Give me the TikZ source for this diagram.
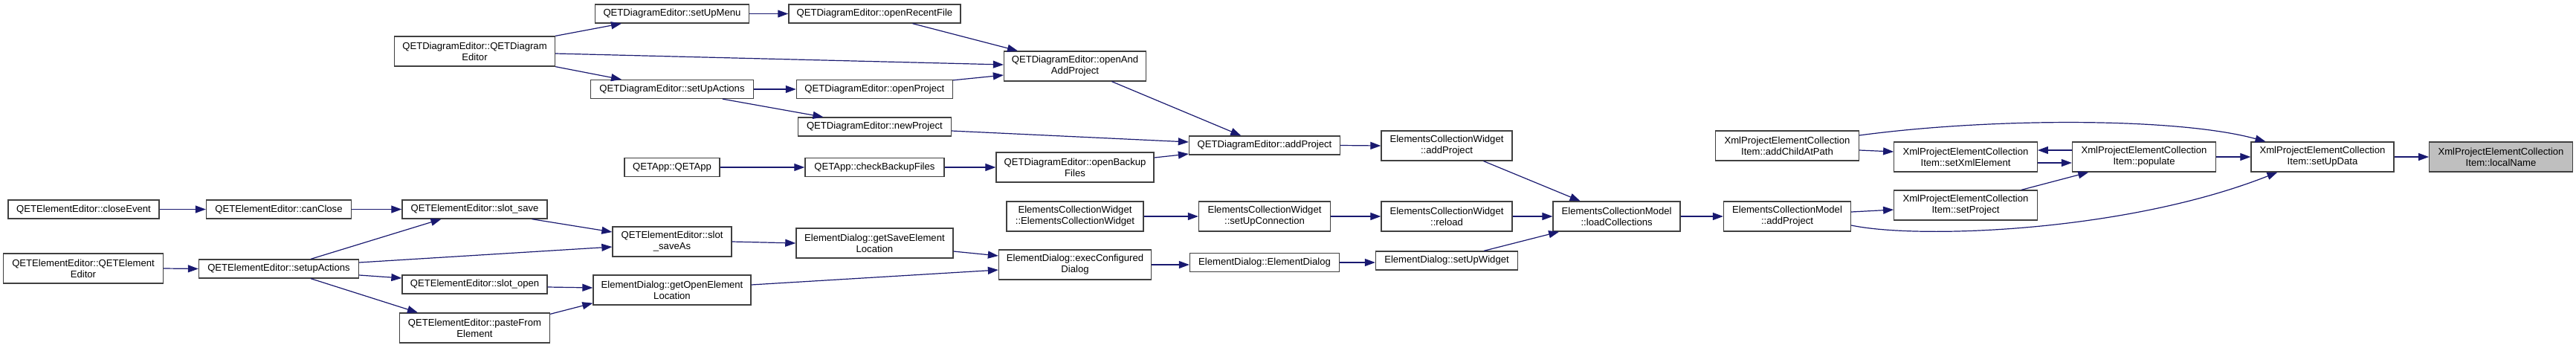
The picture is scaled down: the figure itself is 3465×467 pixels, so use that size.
\documentclass[tikz,border=0pt]{standalone}
\usepackage{fontspec}
\setmainfont{Liberation Sans}
\usepackage{tikz}
\usepackage{xcolor}
\usetikzlibrary{arrows.meta}

\definecolor{edgeblue}{HTML}{191970}
\definecolor{boxline}{HTML}{404040}
\definecolor{boxgrey}{HTML}{BFBFBF}

\begin{document}
\begin{tikzpicture}[x=1pt, y=-1pt,
    func/.style={draw=boxline, fill=white, line width=1.3pt, align=center,
      inner xsep=3pt, inner ysep=1pt, minimum height=25pt,
      font=\fontsize{13.1}{15}\selectfont},
    func2/.style={func, minimum height=40pt},
    target/.style={func2, fill=boxgrey},
    call/.style={draw=edgeblue, line width=1.2pt,
      -{Triangle[length=14pt, width=10pt]}}]
    \useasboundingbox (0,0) rectangle (3465,467);
    % Element editor callers
    \node[func, minimum width=203pt] (closeEv) at (112.5,281.5) {QETElementEditor::closeEvent};
    \node[func2, minimum width=215pt] (eeCtor) at (112,361) {QETElementEditor::QETElement\\Editor};
    \node[func, minimum width=195pt] (canClose) at (375,281.5) {QETElementEditor::canClose};
    \node[func, minimum width=215pt] (setupAct) at (375,361.5) {QETElementEditor::setupActions};
    \node[func, minimum width=195pt] (slotSave) at (638.5,281.5) {QETElementEditor::slot\_save};
    \node[func, minimum width=195pt] (slotOpen) at (638.5,382.5) {QETElementEditor::slot\_open};
    \node[func2, minimum width=202pt] (paste) at (638.5,441) {QETElementEditor::pasteFrom\\Element};
    \node[func2, minimum width=160pt] (saveAs) at (904,325) {QETElementEditor::slot\\\_saveAs};
    \node[func2, minimum width=212pt] (getOpen) at (904,390) {ElementDialog::getOpenElement\\Location};
    \node[func2, minimum width=211pt] (getSave) at (1176.4,327) {ElementDialog::getSaveElement\\Location};
    \node[func2, minimum width=205pt] (execDlg) at (1446,356) {ElementDialog::execConfigured\\Dialog};
    \node[func, minimum width=201pt] (edCtor) at (1701,353) {ElementDialog::ElementDialog};
    \node[func, minimum width=191pt] (setUpWidget) at (1946,350.5) {ElementDialog::setUpWidget};
    % Diagram editor callers
    \node[func2, minimum width=216pt] (deCtor) at (638.5,69) {QETDiagramEditor::QETDiagram\\Editor};
    \node[func, minimum width=207pt] (setUpMenu) at (904,18.5) {QETDiagramEditor::setUpMenu};
    \node[func, minimum width=219pt] (setUpActions) at (904,120) {QETDiagramEditor::setUpActions};
    \node[func, minimum width=128pt] (qetApp) at (904,225) {QETApp::QETApp};
    \node[func, minimum width=231pt] (openRecent) at (1176.4,18.5) {QETDiagramEditor::openRecentFile};
    \node[func, minimum width=210pt] (openProj) at (1176.4,120) {QETDiagramEditor::openProject};
    \node[func, minimum width=206pt] (newProj) at (1176.4,170.5) {QETDiagramEditor::newProject};
    \node[func, minimum width=187pt] (checkBackup) at (1176.4,225) {QETApp::checkBackupFiles};
    \node[func2, minimum width=191pt] (openAndAdd) at (1446,89) {QETDiagramEditor::openAnd\\AddProject};
    \node[func2, minimum width=212pt] (openBackup) at (1446,225) {QETDiagramEditor::openBackup\\Files};
    \node[func, minimum width=203pt] (deAddProj) at (1701,195.5) {QETDiagramEditor::addProject};
    % Collection widget and model
    \node[func2, minimum width=184pt] (ecwCtor) at (1446,291) {ElementsCollectionWidget\\::ElementsCollectionWidget};
    \node[func2, minimum width=177pt] (setUpConn) at (1701,291) {ElementsCollectionWidget\\::setUpConnection};
    \node[func2, minimum width=176pt] (ecwAddProj) at (1946,196) {ElementsCollectionWidget\\::addProject};
    \node[func2, minimum width=176pt] (reload) at (1946,291) {ElementsCollectionWidget\\::reload};
    \node[func2, minimum width=171pt] (loadColl) at (2174.6,291) {ElementsCollectionModel\\::loadCollections};
    \node[func2, minimum width=171pt] (ecmAddProj) at (2404,291) {ElementsCollectionModel\\::addProject};
    % Xml project items
    \node[func2, minimum width=193pt] (addChild) at (2404,196) {XmlProjectElementCollection\\Item::addChildAtPath};
    \node[func2, minimum width=192.5pt] (setXml) at (2644,211) {XmlProjectElementCollection\\Item::setXmlElement};
    \node[func2, minimum width=192.5pt] (setProj) at (2644,276) {XmlProjectElementCollection\\Item::setProject};
    \node[func2, minimum width=193pt] (populate) at (2884,211) {XmlProjectElementCollection\\Item::populate};
    \node[func2, minimum width=192pt] (setUpData) at (3124,211) {XmlProjectElementCollection\\Item::setUpData};
    \node[target, minimum width=192.5pt] (localName) at (3364,211) {XmlProjectElementCollection\\Item::localName};

    % Calls, element editor side
    \draw[call] (closeEv.east) -- (canClose.west);
    \draw[call] (canClose.east) -- (slotSave.west);
    \draw[call] (eeCtor.east) -- (setupAct.west);
    \draw[call] ([xshift=43pt]setupAct.north) -- ([xshift=-45pt]slotSave.south);
    \draw[call] ([yshift=8.5pt]setupAct.east) -- ([yshift=-7pt]saveAs.west);
    \draw[call] ([yshift=-8.5pt]setupAct.east) -- ([yshift=8.5pt]slotOpen.west);
    \draw[call] ([xshift=43pt]setupAct.south) -- ([xshift=-76.5pt]paste.north);
    \draw[call] ([xshift=77pt]slotSave.south) -- ([yshift=13pt]saveAs.west);
    \draw[call] (saveAs.east) -- (getSave.west);
    \draw[call] ([yshift=-3.5pt]slotOpen.east) -- ([yshift=3pt]getOpen.west);
    \draw[call] ([yshift=-2pt]paste.north east) -- ([yshift=3pt]getOpen.south west);
    \draw[call] ([yshift=-11pt]getSave.east) -- ([yshift=12pt]execDlg.west);
    \draw[call] ([yshift=7pt]getOpen.east) -- ([yshift=-7pt]execDlg.west);
    \draw[call] (execDlg.east) -- (edCtor.west |- execDlg.east);
    \draw[call] (edCtor.east) -- (setUpWidget.west |- edCtor.east);
    \draw[call] ([xshift=50pt]setUpWidget.north) -- ([xshift=-77.5pt]loadColl.south);
    % Calls, diagram editor side
    \draw[call] (deCtor.north east) -- ([xshift=-68pt]setUpMenu.south);
    \draw[call] (deCtor.south east) -- ([xshift=-68pt]setUpActions.north);
    \draw[call] ([yshift=-3pt]deCtor.east) -- ([yshift=2pt]openAndAdd.west);
    \draw[call] (setUpMenu.east) -- (openRecent.west);
    \draw[call] ([xshift=51pt]openRecent.south) -- ([xshift=-77pt]openAndAdd.north);
    \draw[call] (setUpActions.east) -- (openProj.west);
    \draw[call] ([xshift=68pt]setUpActions.south) -- ([xshift=-69pt]newProj.north);
    \draw[call] ([yshift=-1pt]openProj.north east) -- ([yshift=-12pt]openAndAdd.west);
    \draw[call] (qetApp.east) -- (checkBackup.west);
    \draw[call] (checkBackup.east) -- (openBackup.west);
    \draw[call] ([xshift=49.5pt]openAndAdd.south) -- ([xshift=-31.7pt]deAddProj.north);
    \draw[call] ([yshift=-5.5pt]newProj.east) -- ([yshift=4.5pt]deAddProj.west);
    \draw[call] ([yshift=13pt]openBackup.east) -- ([yshift=-11.5pt]deAddProj.west);
    \draw[call] (deAddProj.east) -- (ecwAddProj.west);
    % Calls, collections
    \draw[call] (ecwCtor.east) -- (setUpConn.west);
    \draw[call] (setUpConn.east) -- (reload.west);
    \draw[call] (reload.east) -- (loadColl.west);
    \draw[call] ([xshift=49.5pt]ecwAddProj.south) -- ([xshift=-49pt]loadColl.north);
    \draw[call] (loadColl.east) -- (ecmAddProj.west);
    \draw[call] ([yshift=6pt]ecmAddProj.east) -- ([yshift=-6pt]setProj.west);
    \draw[call] ([yshift=-12pt]ecmAddProj.east) .. controls (2580,322) and (2860,312) .. ([xshift=-60.6pt]setUpData.south);
    \draw[call] ([yshift=-6pt]addChild.east) -- ([yshift=7pt]setXml.west);
    \draw[call] ([yshift=14pt]addChild.east) .. controls (2680,158) and (2930,158) .. ([xshift=-76.5pt]setUpData.north);
    \draw[call] ([yshift=-8pt]setXml.east) -- ([yshift=-8pt]populate.west);
    \draw[call] ([yshift=9pt]populate.west) -- ([yshift=9pt]setXml.east);
    \draw[call] ([xshift=75pt]setProj.north) -- ([xshift=-74.7pt]populate.south);
    \draw[call] (populate.east) -- (setUpData.west);
    \draw[call] (setUpData.east) -- (localName.west);
\end{tikzpicture}
\end{document}
